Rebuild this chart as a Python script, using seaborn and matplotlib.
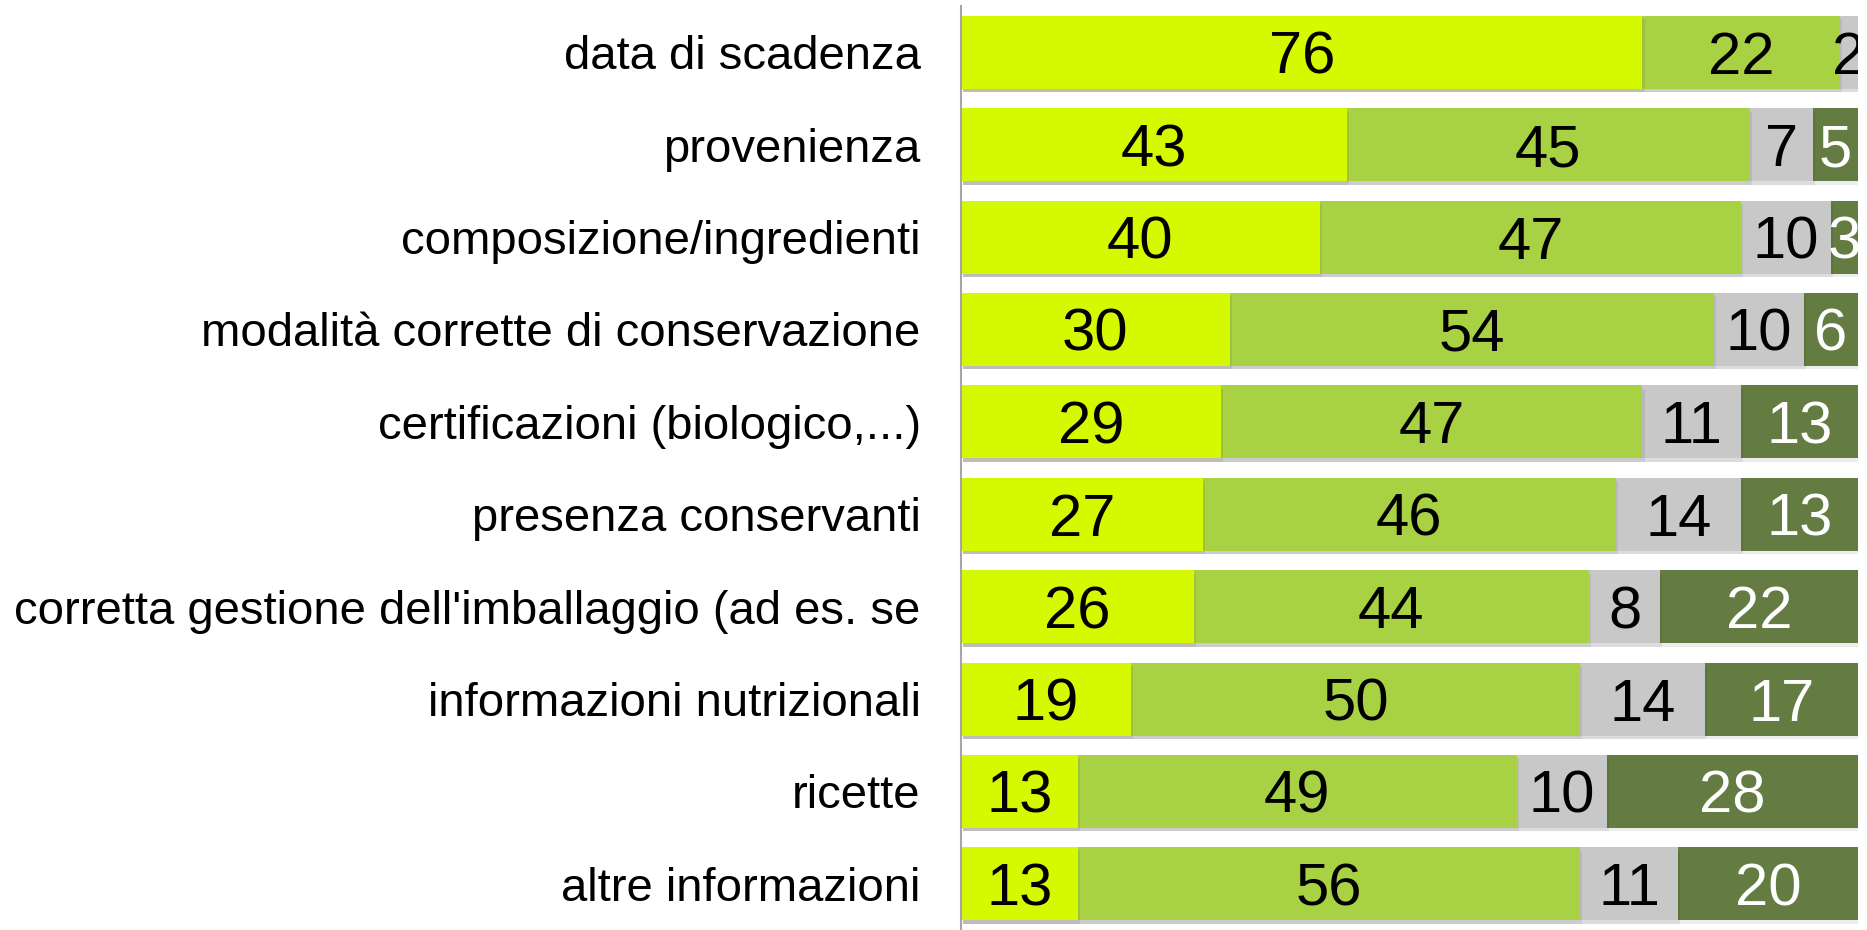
import numpy as np
import pandas as pd
import matplotlib
matplotlib.use("Agg")
import matplotlib.pyplot as plt
import matplotlib.patheffects as pe
import seaborn as sns

categories = [
    "data di scadenza",
    "provenienza",
    "composizione/ingredienti",
    "modalità corrette di conservazione",
    "certificazioni (biologico,...)",
    "presenza conservanti",
    "corretta gestione dell'imballaggio (ad es. se",
    "informazioni nutrizionali",
    "ricette",
    "altre informazioni",
]
s1 = [76, 43, 40, 30, 29, 27, 26, 19, 13, 13]
s2 = [22, 45, 47, 54, 47, 46, 44, 50, 49, 56]
s3 = [2, 7, 10, 10, 11, 14, 8, 14, 10, 11]
s4 = [0, 5, 3, 6, 13, 13, 22, 17, 28, 20]

series = [s1, s2, s3, s4]
colors = ["#d4f900", "#a8d144", "#c8c8c8", "#647c41"]
text_colors = ["black", "black", "black", "white"]

sns.set_theme(style="white")
plt.rcParams["font.family"] = ["Liberation Sans", "DejaVu Sans"]

fig = plt.figure(figsize=(18.67, 9.30), dpi=100)
ax = fig.add_axes([0.5147, 0.0, 0.4803, 0.9935])

cum = np.cumsum(np.array(series), axis=0)
df = pd.DataFrame({"cat": categories})
# draw from total (back) to first segment (front)
for i in range(len(series) - 1, -1, -1):
    df["v"] = cum[i]
    n_before = len(ax.patches)
    sns.barplot(data=df, x="v", y="cat", orient="h", color=colors[i],
                saturation=1, width=0.79, ax=ax, edgecolor="none")
    for p in ax.patches[n_before:]:
        p.set_path_effects([pe.SimplePatchShadow(offset=(1.5, -2.5),
                                                 shadow_rgbFace="#000000",
                                                 alpha=0.07),
                            pe.Normal()])

for i, s in enumerate(series):
    for j, v in enumerate(s):
        if v == 0:
            continue
        xc = cum[i][j] - v / 2
        ax.text(xc, j, str(v), ha="center", va="center_baseline", fontsize=43,
                color=text_colors[i], clip_on=True)

ax.set_xlim(0, 100)
ax.set_ylim(9.5, -0.5)
ax.set_xlabel("")
ax.set_ylabel("")
ax.set_xticks([])
ax.tick_params(axis="y", length=0, pad=29, labelsize=34)
for lab in ax.get_yticklabels():
    lab.set_color("black")
for sp in ["top", "right", "bottom"]:
    ax.spines[sp].set_visible(False)
ax.spines["left"].set_color("#a6a6a6")
ax.spines["left"].set_linewidth(1.5)

fig.savefig("out.png", dpi=100, facecolor="white")
